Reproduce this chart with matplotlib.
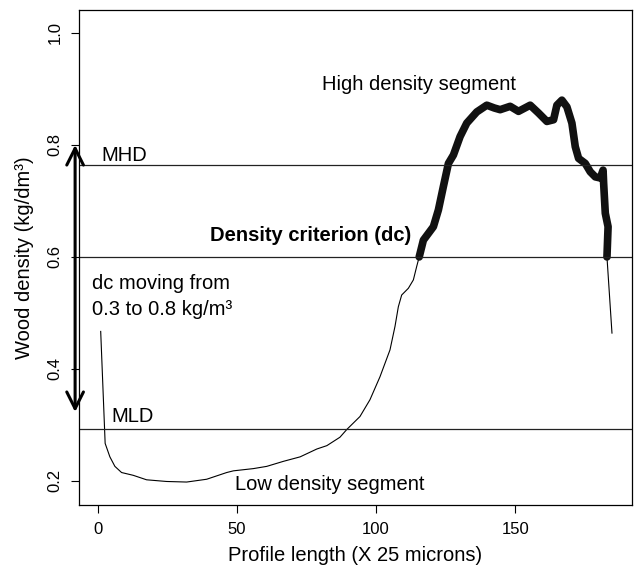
import matplotlib
matplotlib.use("Agg")
import matplotlib.pyplot as plt
import numpy as np

# density profile
profile_x = [1, 2.6, 4.3, 6.1, 8.5, 12.7, 17.5, 24.7, 31.9, 39.1, 46.3, 48.7,
             55.9, 60.7, 66.7, 72.7, 78.7, 82.3, 87, 89.5, 94.2, 97.8, 101.4,
             105, 106.8, 108, 109.2, 111.6, 113.4, 114.6, 115.5, 117, 120.6,
             122.4, 124.2, 126, 127.8, 130.2, 132.6, 136.2, 139.8, 142.5, 144.6,
             148.2, 151.2, 155.4, 158.4, 161.4, 163.8, 165, 166.8, 168.6, 170.4,
             171.6, 172.8, 175.2, 177, 178.8, 180.6, 181.6, 181.8, 182.4, 183.4,
             183.0, 184.8]
profile_y = [0.467, 0.267, 0.243, 0.226, 0.215, 0.210, 0.202, 0.199, 0.198,
             0.203, 0.215, 0.218, 0.222, 0.226, 0.235, 0.243, 0.257, 0.263,
             0.278, 0.292, 0.315, 0.345, 0.386, 0.434, 0.476, 0.511, 0.532,
             0.544, 0.559, 0.583, 0.600, 0.630, 0.654, 0.684, 0.726, 0.767,
             0.782, 0.815, 0.839, 0.859, 0.871, 0.866, 0.863, 0.869, 0.860,
             0.871, 0.857, 0.842, 0.845, 0.871, 0.880, 0.868, 0.839, 0.797,
             0.776, 0.767, 0.752, 0.743, 0.741, 0.755, 0.732, 0.678, 0.654,
             0.600, 0.464]

mhd = 0.764
dc = 0.60
mld = 0.293
dc_range = (0.323, 0.80)

x_ticks = [0, 50, 100, 150]
y_ticks = [0.2, 0.4, 0.6, 0.8, 1.0]

plt.rcParams["font.family"] = ["Liberation Sans", "DejaVu Sans"]

fig = plt.figure(figsize=(6.38, 5.66), dpi=100)
ax = fig.add_axes([79 / 638, 1 - 505 / 566, 553 / 638, 495 / 566])

px = np.array(profile_x)
py = np.array(profile_y)
ax.plot(px, py, color="black", lw=0.8)
high = np.ma.masked_less(py, dc - 1e-9)
ax.plot(px, high, color="#111111", lw=5.5, solid_capstyle="round",
        solid_joinstyle="round")

for level in (mhd, dc, mld):
    ax.axhline(level, color="#222222", lw=0.9)

ax.set_xlim(-6.8, 192)
ax.set_ylim(0.157, 1.041)
ax.set_xticks(x_ticks)
ax.set_yticks(y_ticks)
ax.set_xticklabels([str(t) for t in x_ticks])
ax.set_yticklabels([f"{t:.1f}" for t in y_ticks], rotation=90, va="center")
ax.tick_params(direction="out", length=6, width=0.8, labelsize=12, pad=6)
for s in ax.spines.values():
    s.set_linewidth(0.9)

ax.set_xlabel("Profile length (X 25 microns)", fontsize=14.5, va="center")
ax.xaxis.set_label_coords(0.5, -0.103)
ax.set_ylabel("Wood density (kg/dm³)", fontsize=14.5, va="center")
ax.yaxis.set_label_coords(-0.098, 0.5)

fs = 14.5
ax.text(115.5, 0.898, "High density segment", fontsize=fs, ha="center",
        va="baseline")
ax.text(1.4, 0.771, "MHD", fontsize=fs, va="baseline")
ax.text(40.3, 0.629, "Density criterion (dc)", fontsize=fs,
        fontweight="bold", va="baseline")
ax.text(-2.2, 0.543, "dc moving from", fontsize=fs, va="baseline")
ax.text(-2.2, 0.496, "0.3 to 0.8 kg/m³", fontsize=fs, va="baseline")
ax.text(5.0, 0.305, "MLD", fontsize=fs, va="baseline")
ax.text(49.3, 0.184, "Low density segment", fontsize=fs, va="baseline")

ax.annotate("", xy=(-8.2, dc_range[1]), xytext=(-8.2, dc_range[0]),
            annotation_clip=False,
            arrowprops=dict(arrowstyle="<->,head_length=0.6,head_width=0.3",
                            mutation_scale=20, lw=2.2, color="black",
                            shrinkA=0, shrinkB=0))

fig.savefig("out.png", dpi=100)
